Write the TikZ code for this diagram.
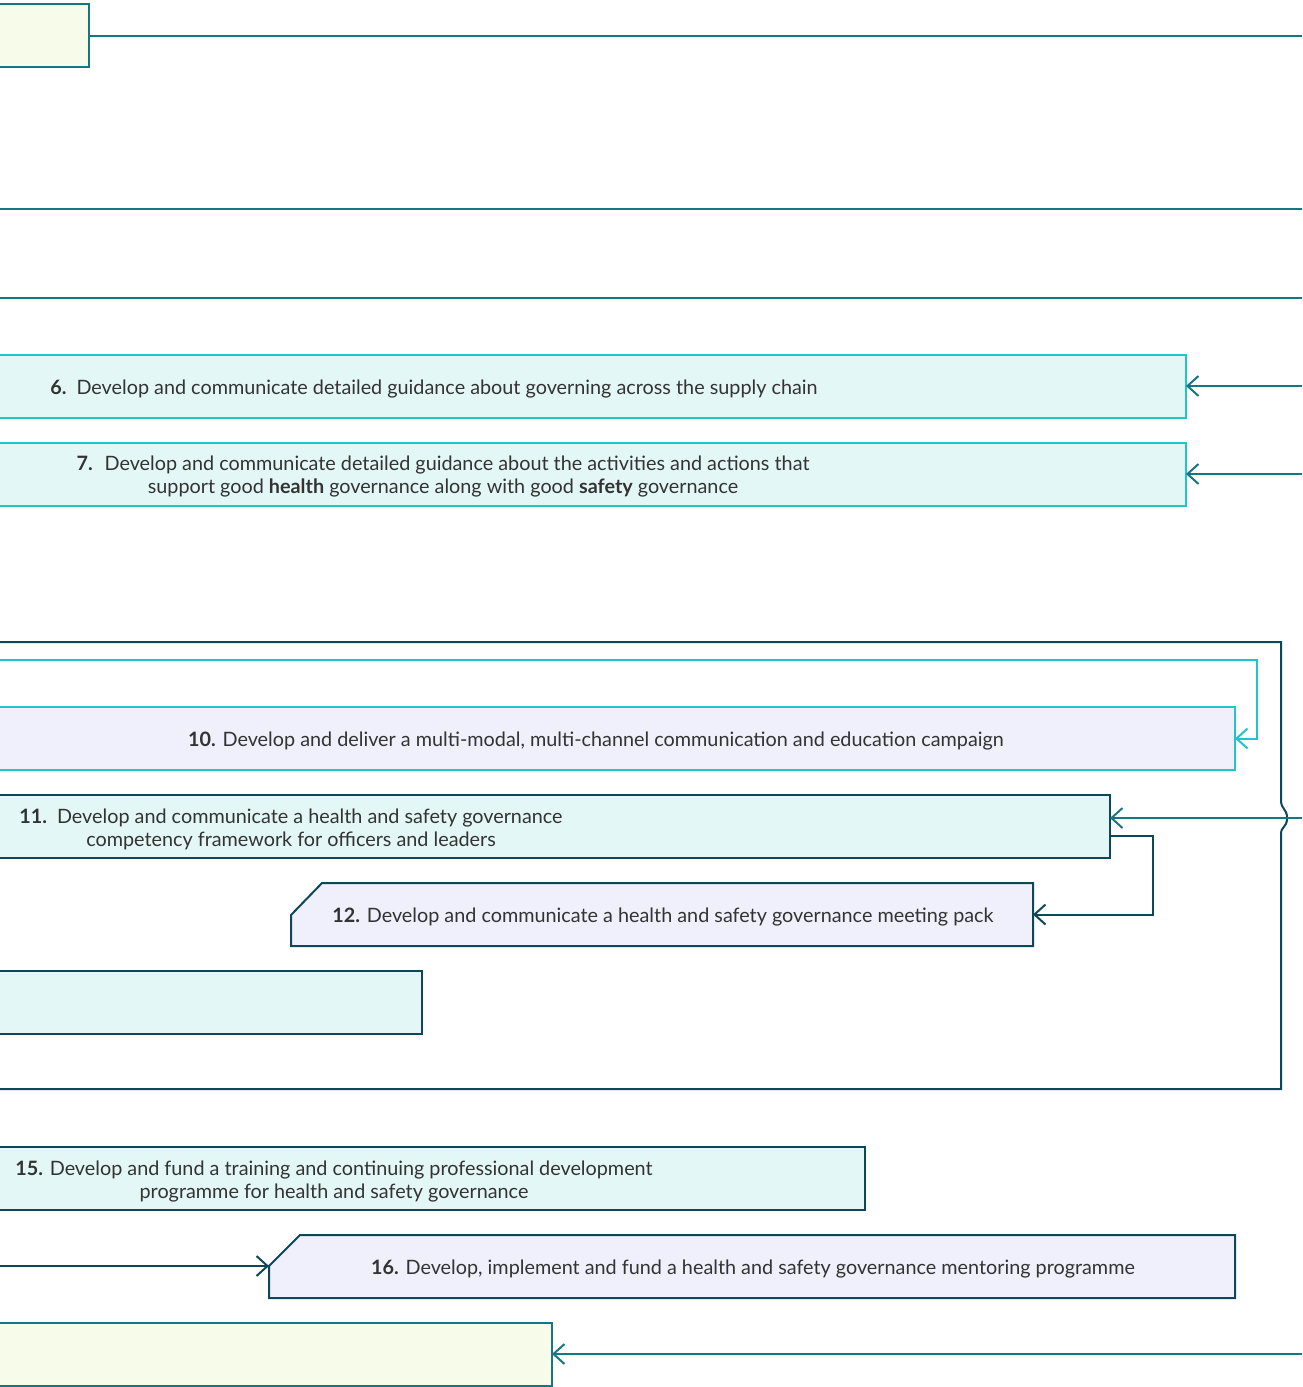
\documentclass[tikz,border=0pt]{standalone}
\usepackage{xcolor}
\usepackage{fontspec}
\setmainfont{Lato}
\usepackage{tikz}
\usetikzlibrary{arrows.meta}
\definecolor{linecol}{RGB}{24,118,130}
\definecolor{navy}{RGB}{12,72,88}
\definecolor{cyanline}{RGB}{32,196,204}
\definecolor{paleteal}{RGB}{228,247,247}
\definecolor{palelav}{RGB}{240,239,252}
\definecolor{palelime}{RGB}{247,251,234}
\definecolor{inktext}{RGB}{51,51,51}

\begin{document}
\begin{tikzpicture}[x=1pt,y=-1pt,line width=2pt,
    panel/.style={rectangle,anchor=north west,inner sep=0pt,outer sep=0pt,minimum height=63pt},
    txt/.style={inner sep=0pt,align=center,text=inktext,font=\fontsize{19.8}{23}\selectfont},
    barb/.style={-{Straight Barb[length=11pt,width=20pt]}}]
    \useasboundingbox (0,0) rectangle (1302,1387);
    \clip (0,0) rectangle (1302,1387);

    % top band
    \node[panel,draw=linecol,fill=palelime,minimum width=111pt] (btop) at (-22,4) {};
    \coordinate (etop) at (1310,35.5);
    \draw[linecol] (btop.east) -- (etop);
    \draw[linecol] (-10,209) -- (1310,209);
    \draw[linecol] (-10,298) -- (1310,298);

    % guidance boxes
    \node[panel,draw=cyanline,fill=paleteal,minimum width=1208pt] (b6) at (-22,355) {};
    \node[txt] (t6) at (434,389) {\textbf{6.}\hspace{0.5em}Develop and communicate detailed guidance about governing across the supply chain};
    \node[panel,draw=cyanline,fill=paleteal,minimum width=1208pt] (b7) at (-22,443) {};
    \node[txt] (t7) at (443,477) {\textbf{7.}\hspace{0.6em}Develop and communicate detailed guidance about the activities and actions that\\
        support good \textbf{health} governance along with good \textbf{safety} governance};
    \coordinate (r6) at (1310,386);
    \coordinate (r7) at (1310,474);
    \draw[linecol,barb] (r6) -- (r6 -| b6.east);
    \draw[linecol,barb] (r7) -- (r7 -| b7.east);

    % grouped frame with brace
    \draw[navy] (-10,642) -- (1281,642) -- (1281,800)
        .. controls (1281,810) and (1287,808) .. (1287,818)
        .. controls (1287,828) and (1281,826) .. (1281,834)
        -- (1281,1089) -- (-10,1089);

    \node[panel,draw=cyanline,fill=palelav,minimum width=1257pt] (b10) at (-22,707) {};
    \node[txt] (t10) at (596,741) {\textbf{10.} Develop and deliver a multi-modal, multi-channel communication and education campaign};
    \coordinate (c10) at (-10,660);
    \draw[cyanline,barb] (c10) -| ([xshift=22pt]b10.east) -- (b10.east);

    \node[panel,draw=navy,fill=paleteal,minimum width=1132pt] (b11) at (-22,795) {};
    \node[txt] (t11) at (291,829) {\textbf{11.}\hspace{0.5em}Develop and communicate a health and safety governance\\
        competency framework for officers and leaders};
    \coordinate (r11) at (1310,818);
    \draw[linecol,barb] (r11) -- (r11 -| b11.east);

    \node[panel,minimum width=742pt] (b12) at (291,883) {};
    \filldraw[draw=navy,fill=palelav] (b12.south west) -- ([yshift=-32pt]b12.north west)
        -- ([xshift=31pt]b12.north west) -- (b12.north east) -- (b12.south east) -- cycle;
    \node[txt] (t12) at (663,917) {\textbf{12.} Develop and communicate a health and safety governance meeting pack};
    \draw[navy,barb] ([yshift=-9.5pt]b11.east) -- ++(43,0) |- (b12.east);

    \node[panel,draw=navy,fill=paleteal,minimum width=444pt] (b13) at (-22,971) {};

    % development boxes
    \node[panel,draw=navy,fill=paleteal,minimum width=887pt] (b15) at (-22,1147) {};
    \node[txt] (t15) at (334,1181) {\textbf{15.} Develop and fund a training and continuing professional development\\
        programme for health and safety governance};

    \node[panel,minimum width=966pt] (b16) at (269,1235) {};
    \filldraw[draw=navy,fill=palelav] (b16.south west) -- ([yshift=-31pt]b16.north west)
        -- ([xshift=31pt]b16.north west) -- (b16.north east) -- (b16.south east) -- cycle;
    \node[txt] (t16) at (753,1269) {\textbf{16.} Develop, implement and fund a health and safety governance mentoring programme};
    \coordinate (l16) at (-10,1266);
    \draw[navy,barb] (l16) -- ([yshift=-31pt]b16.north west);

    \node[panel,draw=linecol,fill=palelime,minimum width=574pt] (bend) at (-22,1323) {};
    \coordinate (rend) at (1310,1354);
    \draw[linecol,barb] (rend) -- (rend -| bend.east);
\end{tikzpicture}
\end{document}
